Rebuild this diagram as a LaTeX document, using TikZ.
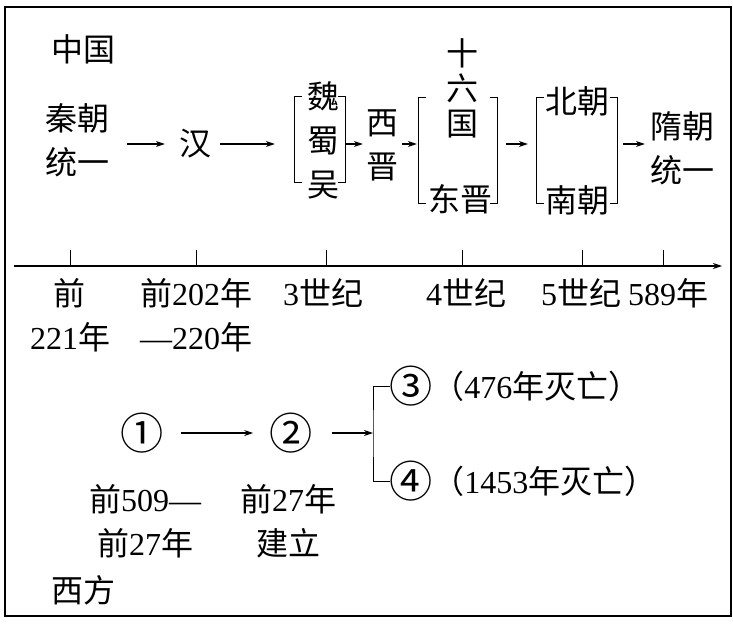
\documentclass[tikz,border=0pt]{standalone}
\usepackage{fontspec}
\usepackage{graphicx}
\setmainfont{Noto Sans CJK SC}
\newfontfamily\latinfont{Liberation Serif}
\usetikzlibrary{arrows.meta, positioning}
\newcommand\digits[1]{{\latinfont #1}}
\newcommand\circnum[1]{\raisebox{-4pt}{\scalebox{1.35}{#1}}}

\begin{document}
\begin{tikzpicture}[
        x=1pt, y=-1pt,
        font=\fontsize{32}{44}\selectfont,
        every node/.style={inner sep=0pt},
        col/.style={align=center},
        group/.style={minimum width=#1, minimum height=105pt},
        bracket/.style={line width=1pt},
        arrow/.style={-{Stealth[length=9pt, width=6pt]}, line width=1.1pt}
    ]
    \useasboundingbox (0,0) rectangle (733,626);
    \draw[line width=1.6pt] (5,7) rectangle (731,616);

    % China
    \node (zg) at (83,49) {中国};
    \node[col] (qin) at (77,140) {秦朝\\统一};
    \node (han) at (195,144) {汉};
    \node[group=50pt, minimum height=85pt] (g1) at (320,139.5) {};
    \node[col] (wsw) at (323,140) {魏\\蜀\\吴};
    \node[col] (xj) at (382,145) {西\\晋};
    \node[group=78pt] (g2) at (458,150.5) {};
    \node[col, font=\fontsize{32}{35}\selectfont] (sl) at (462,88) {十\\六\\国};
    \node (dj) at (460,199) {东晋};
    \node[group=80pt] (g3) at (577,150.5) {};
    \node (bc) at (577,101) {北朝};
    \node (nc) at (577,200) {南朝};
    \node[col] (sui) at (682,148) {隋朝\\统一};

    \foreach \g in {g1,g2,g3} {
        \draw[bracket] ([xshift=7pt]\g.north west) -| (\g.south west) -- ([xshift=7pt]\g.south west);
        \draw[bracket] ([xshift=-7pt]\g.north east) -| (\g.south east) -- ([xshift=-7pt]\g.south east);
    }

    \draw[arrow, shorten <=18pt, shorten >=14pt] (qin.east |- han) -- (han.west);
    \draw[arrow, shorten <=9pt, shorten >=20pt] (han.east) -- (g1.west |- han);
    \draw[arrow, shorten >=3pt] (g1.east |- han) -- (xj.west |- han);
    \draw[arrow, shorten <=4pt, shorten >=2pt] (xj.east |- han) -- (g2.west |- han);
    \draw[arrow, shorten <=9pt, shorten >=9pt] (g2.east |- han) -- (g3.west |- han);
    \draw[arrow, shorten <=6pt, shorten >=5pt] (g3.east |- han) -- (sui.west |- han);

    % time line
    \coordinate (t0) at (14,266);
    \coordinate (t1) at (722,266);
    \draw[arrow] (t0) -- (t1);
    \foreach \x in {70,196,326,462,582,663}
        \draw[line width=1pt] (\x,266) -- (\x,250);

    \node[col] (y1) at (70,315) {前\\\digits{221}年};
    \node[col] (y2) at (196,315) {前\digits{202}年\\\digits{—220}年};
    \node (y3) at (323,293) {\digits{3}世纪};
    \node (y4) at (466,293) {\digits{4}世纪};
    \node (y5) at (581,293) {\digits{5}世纪};
    \node (y6) at (668,293) {\digits{589}年};

    % West
    \node (c1) at (142,433) {\circnum{①}};
    \node (c2) at (291,433) {\circnum{②}};
    \coordinate (fork) at (373,433);
    \node[anchor=west] (c3) at (389,386) {\circnum{③}（\digits{476}年灭亡）};
    \node[anchor=west] (c4) at (389,481) {\circnum{④}（\digits{1453}年灭亡）};

    \draw[arrow, shorten <=17pt, shorten >=16pt] (c1) -- (c2);
    \draw[arrow, shorten <=19pt] (c2) -- (fork);
    \draw[bracket] ([xshift=1pt]c3.west) -| (fork) |- ([xshift=1pt]c4.west);

    \node[col] (d1) at (145,521) {前\digits{509—}\\前\digits{27}年};
    \node[col] (d2) at (288,521) {前\digits{27}年\\建立};
    \node (xf) at (83,590) {西方};

\end{tikzpicture}
\end{document}
